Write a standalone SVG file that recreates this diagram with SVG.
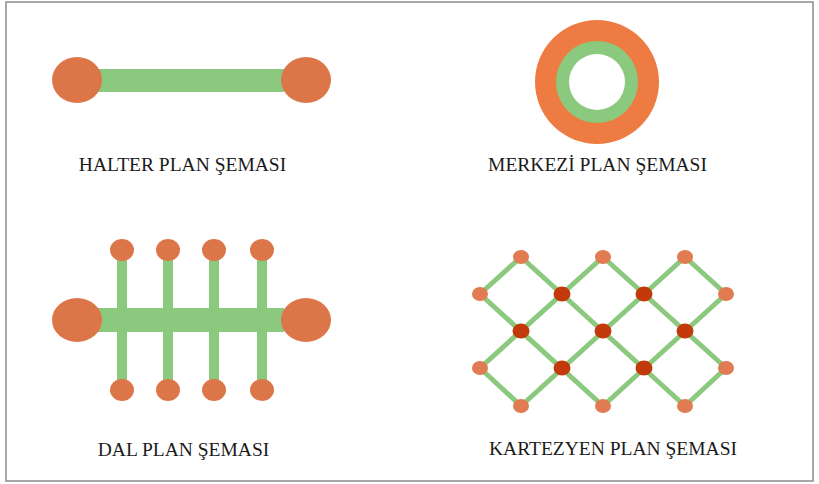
<svg xmlns="http://www.w3.org/2000/svg" width="819" height="484" viewBox="0 0 819 484">
<style>
.lbl{font-family:"Liberation Serif","Times New Roman",serif;font-size:19.5px;fill:#1a1a1a;text-anchor:middle}
.or{fill:#dc7649}
.gr{fill:#8bc97f}
.edge{stroke:#8bc97f;stroke-width:5;fill:none;stroke-linecap:round}
.ln{fill:#e07b52}
.dk{fill:#c2390c}
</style>
<rect x="0" y="0" width="819" height="484" fill="#ffffff"/>
<rect x="6" y="2" width="807" height="479" fill="none" stroke="#8a8a8a" stroke-width="1.5"/>

<g id="halter">
<rect class="gr" x="98" y="69" width="186" height="23"/>
<ellipse class="or" cx="77" cy="80" rx="25" ry="23"/>
<ellipse class="or" cx="306" cy="80" rx="25" ry="23"/>
<text class="lbl" x="182.5" y="171">HALTER PLAN ŞEMASI</text>
</g>

<g id="merkezi">
<circle cx="597" cy="82" r="62" fill="#ee7c42"/>
<circle class="gr" cx="597" cy="82" r="41"/>
<circle cx="597" cy="82" r="28" fill="#ffffff"/>
<text class="lbl" x="597.5" y="171">MERKEZİ PLAN ŞEMASI</text>
</g>

<g id="dal">
<rect class="gr" x="117" y="250" width="10" height="140"/>
<rect class="gr" x="163" y="250" width="10" height="140"/>
<rect class="gr" x="209" y="250" width="10" height="140"/>
<rect class="gr" x="257" y="250" width="10" height="140"/>
<rect class="gr" x="98" y="308" width="186" height="24"/>
<ellipse class="or" cx="77" cy="320" rx="25" ry="22"/>
<ellipse class="or" cx="306" cy="320" rx="25" ry="22"/>
<ellipse class="or" cx="122" cy="250" rx="12" ry="11"/>
<ellipse class="or" cx="168" cy="250" rx="12" ry="11"/>
<ellipse class="or" cx="214" cy="250" rx="12" ry="11"/>
<ellipse class="or" cx="262" cy="250" rx="12" ry="11"/>
<ellipse class="or" cx="122" cy="390" rx="12" ry="11"/>
<ellipse class="or" cx="168" cy="390" rx="12" ry="11"/>
<ellipse class="or" cx="214" cy="390" rx="12" ry="11"/>
<ellipse class="or" cx="262" cy="390" rx="12" ry="11"/>
<text class="lbl" x="183.5" y="456">DAL PLAN ŞEMASI</text>
</g>

<g id="kartezyen-connectors">
<line class="edge" x1="521" y1="257" x2="685" y2="406"/>
<line class="edge" x1="480" y1="294" x2="603" y2="406"/>
<line class="edge" x1="603" y1="257" x2="726" y2="368"/>
<line class="edge" x1="685" y1="257" x2="726" y2="294"/>
<line class="edge" x1="480" y1="368" x2="521" y2="406"/>
<line class="edge" x1="685" y1="257" x2="521" y2="406"/>
<line class="edge" x1="726" y1="294" x2="603" y2="406"/>
<line class="edge" x1="603" y1="257" x2="480" y2="368"/>
<line class="edge" x1="521" y1="257" x2="480" y2="294"/>
<line class="edge" x1="726" y1="368" x2="685" y2="406"/>
</g>

<g id="kartezyen">
<ellipse class="ln" cx="521" cy="257" rx="8" ry="7"/>
<ellipse class="ln" cx="603" cy="257" rx="8" ry="7"/>
<ellipse class="ln" cx="685" cy="257" rx="8" ry="7"/>
<ellipse class="ln" cx="480" cy="294" rx="8" ry="7"/>
<ellipse class="dk" cx="562" cy="294" rx="8.5" ry="7.5"/>
<ellipse class="dk" cx="644" cy="294" rx="8.5" ry="7.5"/>
<ellipse class="ln" cx="726" cy="294" rx="8" ry="7"/>
<ellipse class="dk" cx="521" cy="331" rx="8.5" ry="7.5"/>
<ellipse class="dk" cx="603" cy="331" rx="8.5" ry="7.5"/>
<ellipse class="dk" cx="685" cy="331" rx="8.5" ry="7.5"/>
<ellipse class="ln" cx="480" cy="368" rx="8" ry="7"/>
<ellipse class="dk" cx="562" cy="368" rx="8.5" ry="7.5"/>
<ellipse class="dk" cx="644" cy="368" rx="8.5" ry="7.5"/>
<ellipse class="ln" cx="726" cy="368" rx="8" ry="7"/>
<ellipse class="ln" cx="521" cy="406" rx="8" ry="7"/>
<ellipse class="ln" cx="603" cy="406" rx="8" ry="7"/>
<ellipse class="ln" cx="685" cy="406" rx="8" ry="7"/>
<text class="lbl" x="613" y="455">KARTEZYEN PLAN ŞEMASI</text>
</g>
</svg>
